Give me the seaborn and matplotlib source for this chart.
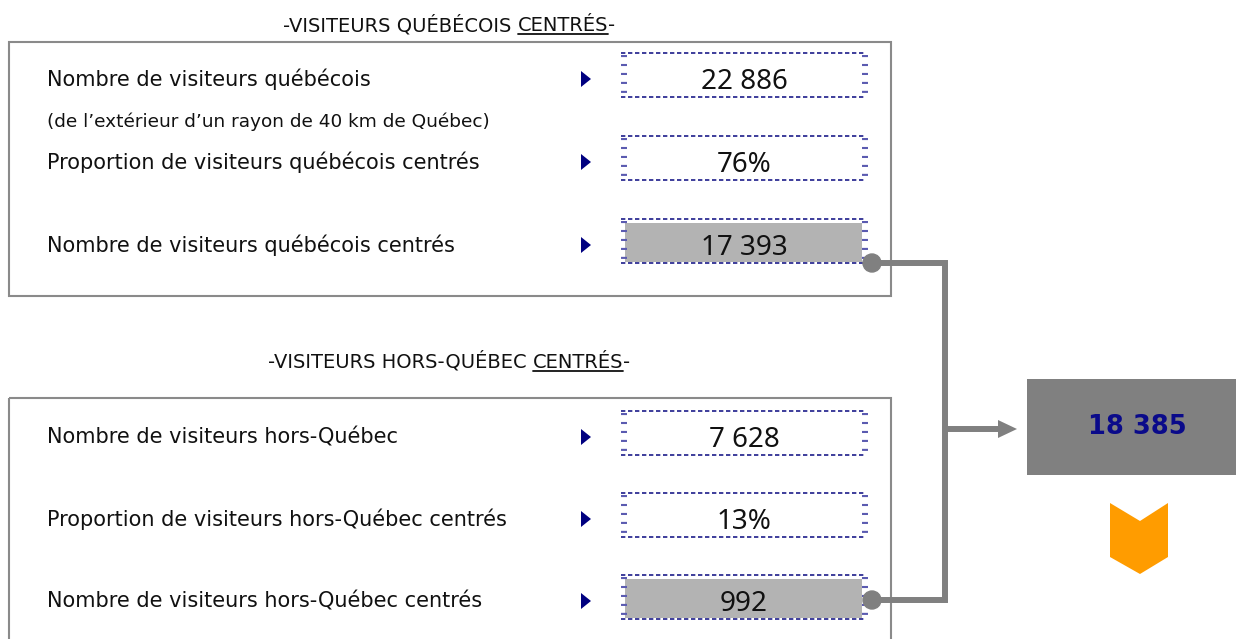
import matplotlib.pyplot as plt
import matplotlib.patches as mpatches
import seaborn as sns

sns.set_theme(style='white')
plt.rcParams['font.family'] = ['DejaVu Sans']

# --- data ---
qc_labels = ['Nombre de visiteurs québécois',
             'Proportion de visiteurs québécois centrés',
             'Nombre de visiteurs québécois centrés']
qc_values = ['22 886', '76%', '17 393']
qc_note = '(de l\u2019extérieur d\u2019un rayon de 40 km de Québec)'
hq_labels = ['Nombre de visiteurs hors-Québec',
             'Proportion de visiteurs hors-Québec centrés',
             'Nombre de visiteurs hors-Québec centrés']
hq_values = ['7 628', '13%', '992']
total_value = '18 385'
titles = [('-VISITEURS QUÉBÉCOIS ', 'CENTRÉS', '-'),
          ('-VISITEURS HORS-QUÉBEC ', 'CENTRÉS', '-')]

GREY = '#808080'
NAVY = '#000080'
INK = '#111111'

fig = plt.figure(figsize=(12.36, 6.39), dpi=100)
ax = fig.add_axes([0, 0, 1, 1])
ax.set_xlim(0, 1236)
ax.set_ylim(639, 0)
ax.axis('off')
renderer = fig.canvas.get_renderer()


def title(parts, cx, base):
    texts, x = [], 0
    for p in parts:
        t = ax.text(x, base, p, fontsize=14, ha='left', va='baseline', color=INK)
        x = t.get_window_extent(renderer).x1
        texts.append(t)
    shift = cx - x / 2
    for t in texts:
        t.set_x(t.get_position()[0] + shift)
    bb = texts[1].get_window_extent(renderer)
    ax.plot([bb.x0, bb.x1], [base + 2.5, base + 2.5], color=INK, lw=1.3)


def value_box(y, value, filled):
    top, bot = y - 26, y + 18
    if filled:
        ax.add_patch(mpatches.Rectangle((625, top + 4), 237, bot - top - 5,
                                        color='#b3b3b3', lw=0, zorder=1))
    for yy in (top, bot):
        ax.plot([621, 866], [yy, yy], color='#1c1c8a', lw=1.2, ls=(0, (2.6, 1.6)), zorder=2)
    for xx in (624, 864.5):
        ax.plot([xx, xx], [top + 2, bot - 2], color='#5a5ab0', lw=4.3,
                ls=(0, (0.35, 1.15)), zorder=2)
    ax.text(744, y + 10, value, fontsize=20, family='Noto Sans', ha='center',
            va='baseline', color=INK, zorder=3)


def section(frame_top, frame_bot, rows, labels, values, parts, title_base, note=None):
    ax.add_patch(mpatches.Rectangle((9, frame_top), 882, frame_bot - frame_top,
                                    fill=False, ec='#8a8a8a', lw=1.5, zorder=1))
    title(parts, 449, title_base)
    for i, (y, lab, val) in enumerate(zip(rows, labels, values)):
        ax.text(47, y + 7, lab, fontsize=15, ha='left', va='baseline', color=INK)
        ax.add_patch(mpatches.Polygon([(581, y - 8), (581, y + 8), (591, y)],
                                      closed=True, color=NAVY, lw=0))
        value_box(y, val, i == len(rows) - 1)
    if note is not None:
        ax.text(47, rows[0] + 48, note, fontsize=13.3, ha='left', va='baseline',
                color=INK)


section(42, 296, [79, 162, 245], qc_labels, qc_values, titles[0], 31, qc_note)
section(398, 660, [437, 519, 601], hq_labels, hq_values, titles[1], 368)

# connectors
ax.plot([872, 945, 945, 872], [263, 263, 600, 600], color=GREY, lw=4.3,
        solid_joinstyle='miter', zorder=4)
for yy in (263, 600):
    ax.add_patch(mpatches.Circle((872, yy), 9, color=GREY, zorder=5))
ax.plot([945, 1000], [429, 429], color=GREY, lw=4.3, zorder=4)
ax.add_patch(mpatches.Polygon([(998, 420), (998, 438), (1017, 429)], closed=True,
                              color=GREY, lw=0, zorder=4))

# total
ax.add_patch(mpatches.Rectangle((1027, 379), 220, 96, color=GREY, lw=0))
ax.text(1137, 427, total_value, fontsize=18.5, fontweight='bold', color='#0a0a8a',
        ha='center', va='center')

# orange chevron
ax.add_patch(mpatches.Polygon([(1110, 503), (1140, 521), (1168, 503), (1168, 557),
                               (1140, 574), (1110, 557)], closed=True,
                              color='#ff9c00', lw=0))

fig.savefig('out.png', dpi=100)
